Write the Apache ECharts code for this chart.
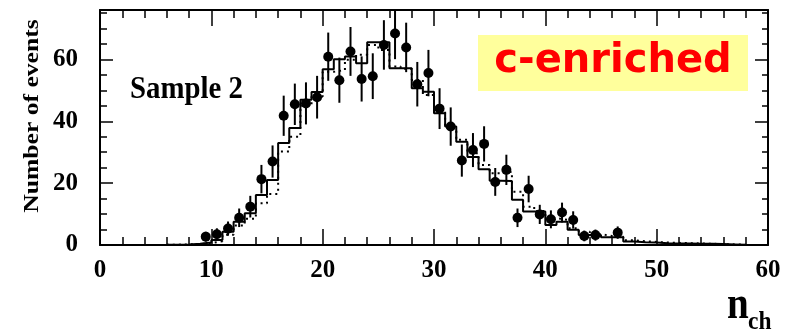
<!DOCTYPE html>
<html>
<head>
<meta charset="utf-8">
<script src="https://cdn.jsdelivr.net/npm/echarts@6/dist/echarts.min.js"></script>
<style>
  html, body { margin: 0; padding: 0; background: #ffffff; }
  #chart { width: 792px; height: 334px; }
</style>
</head>
<body>
<div id="chart"></div>
<script>
// Measured multiplicity distribution (bin centres, counts, statistical errors)
const pointNch = [9.5, 10.5, 11.5, 12.5, 13.5, 14.5, 15.5, 16.5, 17.5, 18.5, 19.5,
  20.5, 21.5, 22.5, 23.5, 24.5, 25.5, 26.5, 27.5, 28.5, 29.5,
  30.5, 31.5, 32.5, 33.5, 34.5, 35.5, 36.5, 37.5, 38.5, 39.5,
  40.5, 41.5, 42.5, 43.5, 44.5, 46.5];
const pointEvents = [2.7, 3.5, 5.3, 8.8, 12.4, 21.3, 27.0, 41.8, 45.5, 45.8, 47.8,
  60.9, 53.3, 62.6, 53.7, 54.6, 64.7, 68.4, 63.9, 52.0, 55.6,
  44.1, 38.3, 27.3, 30.7, 32.7, 20.4, 24.3, 8.8, 18.1, 9.9,
  8.3, 10.5, 8.1, 2.9, 3.2, 4.0];
const pointErrors = [1.6, 1.9, 2.3, 3.0, 3.5, 4.6, 5.2, 6.5, 6.7, 6.8, 6.9,
  7.8, 7.3, 7.9, 7.3, 7.4, 8.0, 8.3, 8.0, 7.2, 7.5,
  6.6, 6.2, 5.2, 5.5, 5.7, 4.5, 4.9, 3.0, 4.3, 3.1,
  2.9, 3.2, 2.8, 1.7, 1.8, 2.0];

// Simulated distributions, one value per unit-width bin starting at binLowEdges[i]
const binLowEdges = [6, 7, 8, 9, 10, 11, 12, 13, 14, 15, 16, 17, 18, 19, 20, 21,
  22, 23, 24, 25, 26, 27, 28, 29, 30, 31, 32, 33, 34, 35, 36, 37,
  38, 39, 40, 41, 42, 43, 44, 45, 46, 47, 48, 49, 50, 51, 52, 53,
  54, 55, 56, 57];
const binUpperEnd = 58;
const mcSolid = [0.1, 0.2, 0.4, 0.8, 1.6, 4.3, 7.5, 10.3, 16.2, 21.0, 33.0, 37.8,
  47.0, 49.5, 56.8, 60.1, 61.0, 58.8, 65.6, 65.6, 57.2, 57.2, 50.7, 49.6,
  42.6, 38.3, 33.4, 28.5, 24.5, 20.8, 20.7, 14.6, 10.8, 10.8, 6.5, 7.5,
  4.9, 3.2, 3.2, 2.5, 2.5, 1.1, 0.9, 0.8, 0.6, 0.5, 0.5, 0.4, 0.4, 0.3, 0.2, 0.1];
const mcDotted = [0.1, 0.2, 0.3, 0.6, 1.2, 3.3, 6.3, 8.5, 13.5, 16.5, 30.2, 35.0,
  45.0, 48.0, 56.0, 56.6, 59.9, 61.5, 64.7, 63.1, 57.7, 57.0, 53.4, 48.5,
  43.7, 37.8, 34.0, 29.7, 25.9, 23.2, 23.7, 17.2, 12.4, 11.0, 8.7, 8.1,
  5.4, 4.3, 3.5, 2.9, 2.7, 1.5, 1.2, 1.0, 0.8, 0.7, 0.6, 0.5, 0.4, 0.3, 0.2, 0.1];

const xRange = [0, 60];
const yRange = [0, 76];

function histogramPath(values) {
  const pts = binLowEdges.map((x, i) => [x, values[i]]);
  pts.push([binUpperEnd, values[values.length - 1]]);
  return pts;
}

const pointsWithErrors = pointNch.map((x, i) => [x, pointEvents[i], pointErrors[i]]);

const serif = 'Liberation Serif, Times New Roman, serif';
const labelStyle = { color: '#000', fontFamily: serif, fontWeight: 'bold', fontSize: 25 };

function xAxisDef(pos, showLabels) {
  return {
    type: 'value', position: pos, min: xRange[0], max: xRange[1], interval: 10,
    axisLine: { show: true, onZero: false, lineStyle: { color: '#000', width: 2 } },
    axisTick: { show: true, inside: true, length: 16, lineStyle: { color: '#000', width: 1.5 } },
    minorTick: { show: true, splitNumber: 5, length: 8, lineStyle: { color: '#000', width: 1.5 } },
    axisLabel: Object.assign({ show: showLabels, margin: 13 }, labelStyle),
    splitLine: { show: false }
  };
}
function yAxisDef(pos, interval, tickLen, showLabels, showLine) {
  return {
    type: 'value', position: pos, min: yRange[0], max: yRange[1], interval: interval,
    axisLine: { show: showLine, onZero: false, lineStyle: { color: '#000', width: 2 } },
    axisTick: { show: true, inside: true, length: tickLen, lineStyle: { color: '#000', width: 1.5 } },
    axisLabel: Object.assign({ show: showLabels, margin: 22, showMaxLabel: false }, labelStyle),
    splitLine: { show: false }
  };
}

const chart = echarts.init(document.getElementById('chart'), null, { renderer: 'canvas' });
chart.setOption({
  animation: false,
  backgroundColor: '#ffffff',
  grid: { left: 100, right: 24, top: 10, bottom: 89, containLabel: false },
  xAxis: [xAxisDef('bottom', true), xAxisDef('top', false)],
  yAxis: [
    yAxisDef('left', 20, 13, true, true),
    yAxisDef('left', 5, 7, false, false),
    yAxisDef('right', 20, 13, false, true),
    yAxisDef('right', 5, 6, false, false)
  ],
  series: [
    {
      type: 'line', name: 'MC dotted', step: 'end', showSymbol: false, symbol: 'none',
      xAxisIndex: 0, yAxisIndex: 0, clip: true,
      data: histogramPath(mcDotted),
      lineStyle: { color: '#000', width: 2, type: [2, 4] }, z: 2
    },
    {
      type: 'line', name: 'MC', step: 'end', showSymbol: false, symbol: 'none',
      xAxisIndex: 0, yAxisIndex: 0, clip: true,
      data: histogramPath(mcSolid),
      lineStyle: { color: '#000', width: 2 }, z: 3
    },
    {
      type: 'custom', name: 'errors', xAxisIndex: 0, yAxisIndex: 0,
      data: pointsWithErrors, encode: { x: 0, y: 1 }, z: 4,
      renderItem: function (params, api) {
        const x = api.value(0), y = api.value(1), e = api.value(2);
        const lo = api.coord([x, y - e]);
        const hi = api.coord([x, y + e]);
        const top = params.coordSys.y;
        return {
          type: 'line',
          shape: { x1: lo[0], y1: lo[1], x2: hi[0], y2: Math.max(hi[1], top) },
          style: { stroke: '#000', lineWidth: 2 }
        };
      }
    },
    {
      type: 'scatter', name: 'data', xAxisIndex: 0, yAxisIndex: 0,
      data: pointsWithErrors.map(p => [p[0], p[1]]),
      symbol: 'circle', symbolSize: 10,
      itemStyle: { color: '#000', opacity: 1 }, z: 5
    }
  ],
  graphic: [
    {
      type: 'text', x: 33, y: 116, rotation: Math.PI / 2, scaleX: 1.28,
      style: { text: 'Number of events', fill: '#000', font: 'bold 20px ' + serif,
               textAlign: 'center', textVerticalAlign: 'middle' }
    },
    {
      type: 'text', x: 130, y: 90, scaleX: 0.9,
      style: { text: 'Sample 2', fill: '#000', font: 'bold 32px ' + serif,
               textAlign: 'left', textVerticalAlign: 'middle' }
    },
    {
      type: 'rect', shape: { x: 478, y: 35, width: 270, height: 56 },
      style: { fill: '#ffff9c' }, z: 10
    },
    {
      type: 'text', x: 613, y: 62, z: 11,
      style: { text: 'c-enriched', fill: '#ff0000', font: 'bold 40px DejaVu Sans, Verdana, sans-serif',
               textAlign: 'center', textVerticalAlign: 'middle' }
    },
    {
      type: 'text', x: 727, y: 306, scaleX: 0.85,
      style: { text: 'n', fill: '#000', font: 'bold 46px ' + serif,
               textAlign: 'left', textVerticalAlign: 'middle' }
    },
    {
      type: 'text', x: 748, y: 322, scaleX: 0.9,
      style: { text: 'ch', fill: '#000', font: 'bold 26px ' + serif,
               textAlign: 'left', textVerticalAlign: 'middle' }
    }
  ]
});
</script>
</body>
</html>
